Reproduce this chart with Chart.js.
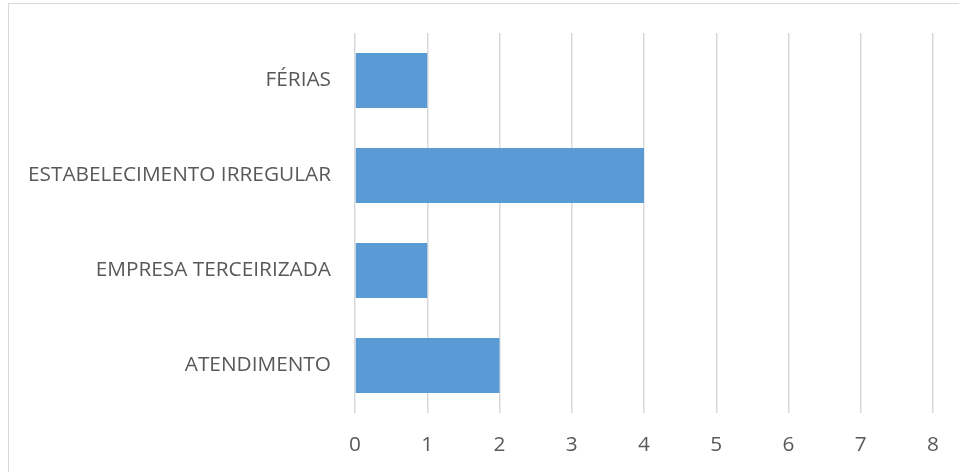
<!DOCTYPE html>
<html><head><meta charset="utf-8">
<script src="https://cdn.jsdelivr.net/npm/chart.js@4/dist/chart.umd.min.js"></script>
<style>
html,body{margin:0;padding:0;background:#fff;overflow:hidden;}
#frame{position:absolute;left:8px;top:3px;width:1000px;height:520px;border:1.5px solid #d9d9d9;box-sizing:border-box;}
#wrap{position:absolute;left:0;top:0;width:959px;height:472px;}
</style></head><body>
<div id="frame"></div>
<div id="wrap"><canvas id="c" width="959" height="472"></canvas></div>
<script>
const categories = ["FÉRIAS", "ESTABELECIMENTO IRREGULAR", "EMPRESA TERCEIRIZADA", "ATENDIMENTO"];
const values = [1, 4, 1, 2];
const xMin = 0, xMax = 8, xStep = 1;

const FONT = {family: "'Open Sans', sans-serif", size: 20.8};
const chart = new Chart(document.getElementById('c'), {
  type: 'bar',
  data: {
    labels: categories,
    datasets: [{
      data: values,
      backgroundColor: '#5b9bd5',
      borderWidth: 0,
      categoryPercentage: 1,
      barPercentage: 0.58
    }]
  },
  options: {
    indexAxis: 'y',
    responsive: false,
    animation: false,
    layout: {padding: {top: 33, right: 26, left: 0, bottom: 0}},
    plugins: {legend: {display: false}, tooltip: {enabled: false}},
    scales: {
      x: {
        min: xMin, max: xMax,
        ticks: {stepSize: xStep, color: '#595959', font: FONT, padding: 20},
        grid: {color: '#d9d9d9', lineWidth: 1.5, drawTicks: false},
        border: {display: false},
        afterFit: s => { s.height = 59; s.paddingLeft = 0; s.paddingRight = 0; }
      },
      y: {
        ticks: {color: '#595959', font: FONT, padding: 24},
        grid: {display: false, drawTicks: false},
        border: {display: false},
        afterFit: s => { s.width = 355; s.paddingTop = 0; s.paddingBottom = 0; }
      }
    }
  }
});
</script>
</body></html>
